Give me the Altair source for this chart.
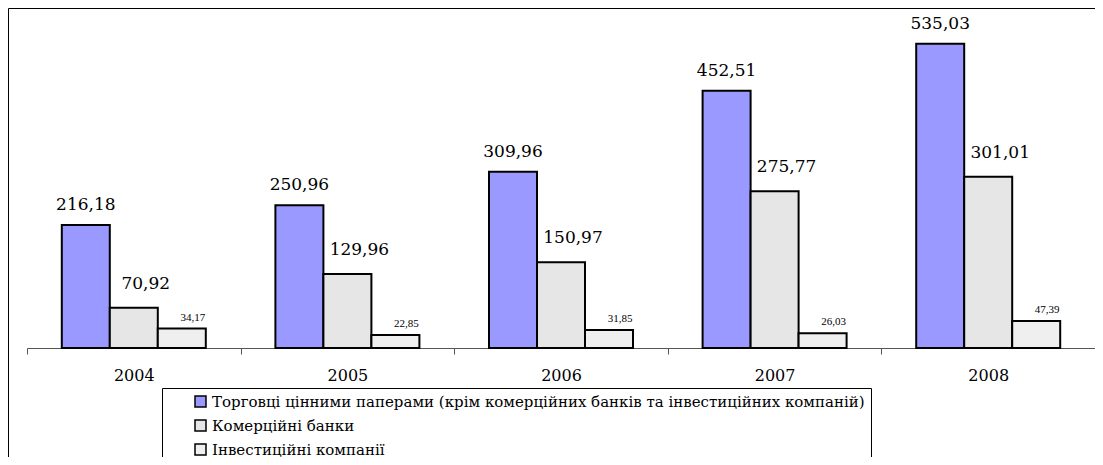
import altair as alt
import pandas as pd

years = ["2004", "2005", "2006", "2007", "2008"]
series = [
    "Торговці цінними паперами (крім комерційних банків та інвестиційних компаній)",
    "Комерційні банки",
    "Інвестиційні компанії",
]
traders = [216.18, 250.96, 309.96, 452.51, 535.03]
banks = [70.92, 129.96, 150.97, 275.77, 301.01]
invest = [34.17, 22.85, 31.85, 26.03, 47.39]
colors = ["#9999ff", "#e6e6e6", "#efefef"]

rows = []
for s, vals in zip(series, [traders, banks, invest]):
    for yr, v in zip(years, vals):
        rows.append({"year": yr, "series": s, "value": v,
                     "label": f"{v:.2f}".replace(".", ",")})
df = pd.DataFrame(rows)

W = 1068
H = 338
YMAX = 594.5

x = alt.X("year:N", sort=years,
          scale=alt.Scale(paddingInner=0, paddingOuter=0),
          axis=alt.Axis(title=None, labelAngle=0, tickBand="extent",
                        domainColor="#555", tickColor="#555", tickSize=6,
                        labelFont="DejaVu Serif", labelFontSize=16,
                        labelColor="black", labelPadding=13))
xo = alt.XOffset("series:N", sort=series,
                 scale=alt.Scale(domain=series, paddingInner=0, paddingOuter=0.725))
y = alt.Y("value:Q", scale=alt.Scale(domain=[0, YMAX]), axis=None)

base = alt.Chart(df)

bars = base.mark_bar(stroke="black", strokeWidth=2).encode(
    x=x, xOffset=xo, y=y,
    color=alt.Color("series:N",
                    scale=alt.Scale(domain=series, range=colors),
                    legend=alt.Legend(orient="none", legendX=135, legendY=378,
                                      direction="vertical", title=None,
                                      strokeColor="black", padding=6,
                                      symbolType="square", symbolSize=121,
                                      symbolStrokeColor="black",
                                      symbolStrokeWidth=1.5,
                                      symbolOffset=25,
                                      labelFont="DejaVu Serif",
                                      labelFontSize=15, labelColor="black",
                                      labelLimit=1000, rowPadding=7)),
)

t_blue = base.transform_filter(alt.datum.series == series[0]).mark_text(
    font="DejaVu Serif", fontSize=17, baseline="middle", dy=-20, color="black"
).encode(x=x, xOffset=xo, y=y, text="label:N")

t_bank = base.transform_filter(alt.datum.series == series[1]).mark_text(
    font="DejaVu Serif", fontSize=17, baseline="middle", dy=-24, dx=12, color="black"
).encode(x=x, xOffset=xo, y=y, text="label:N")

t_inv = base.transform_filter(alt.datum.series == series[2]).mark_text(
    font="Liberation Serif", fontSize=11, baseline="middle", dy=-11, dx=11, color="black"
).encode(x=x, xOffset=xo, y=y, text="label:N")

frame = alt.Chart(pd.DataFrame({"a": [0]})).mark_rect(
    fillOpacity=0, stroke="black", strokeWidth=1
).encode(x=alt.value(-18.5), x2=alt.value(W + 40), y=alt.value(-1.5), y2=alt.value(600))

chart = alt.layer(frame, bars, t_blue, t_bank, t_inv).properties(
    width=W, height=H, background="white",
    autosize=alt.AutoSizeParams(type="none"),
    padding={"left": 19, "top": 2, "right": 0, "bottom": 109},
).configure_view(stroke=None)

chart.save("out.html", embed_options={"renderer": "svg", "actions": False})
